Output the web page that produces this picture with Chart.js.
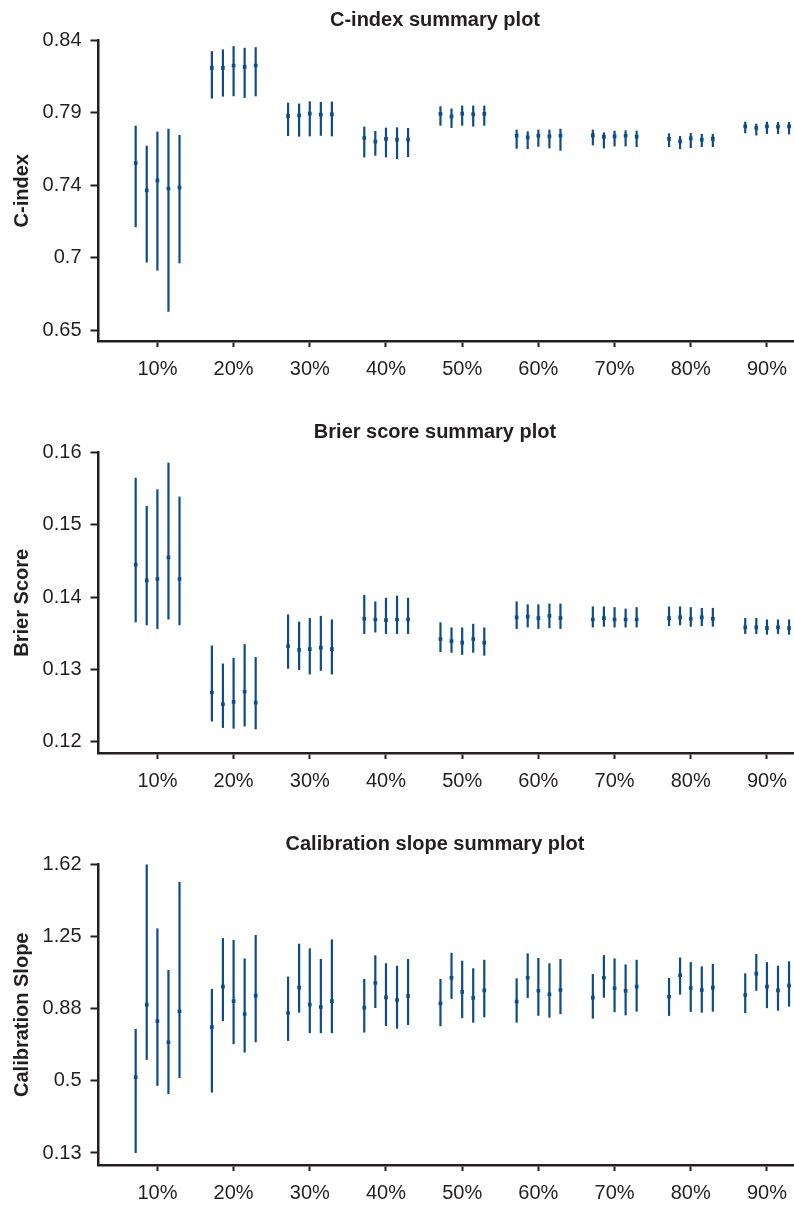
<!DOCTYPE html>
<html>
<head>
<meta charset="utf-8">
<script src="https://cdn.jsdelivr.net/npm/chart.js@4/dist/chart.umd.min.js"></script>
<style>
  html, body { margin: 0; padding: 0; background: #fff; overflow: hidden; }
  #page { position: relative; width: 794px; height: 1206px; overflow: hidden; }
  .panel { position: absolute; left: 0; width: 870px; height: 412px; }
</style>
</head>
<body>
<div id="page">
  <div class="panel" style="top:0px"><canvas id="c1"></canvas></div>
  <div class="panel" style="top:412px"><canvas id="c2"></canvas></div>
  <div class="panel" style="top:824px"><canvas id="c3"></canvas></div>
</div>
<script>
// groups on the x axis (percent)
const groups = [10, 20, 30, 40, 50, 60, 70, 80, 90];
const groupLabels = ['10%', '20%', '30%', '40%', '50%', '60%', '70%', '80%', '90%'];

// C-index: estimate, lower, upper (5 runs per group)
const cindexMean = [
  [0.7596, 0.7416, 0.7482, 0.7429, 0.7435],
  [0.8220, 0.8220, 0.8236, 0.8227, 0.8236],
  [0.7905, 0.7909, 0.7920, 0.7913, 0.7916],
  [0.7760, 0.7736, 0.7754, 0.7749, 0.7749],
  [0.7918, 0.7902, 0.7920, 0.7916, 0.7918],
  [0.7775, 0.7764, 0.7775, 0.7771, 0.7775],
  [0.7777, 0.7767, 0.7771, 0.7775, 0.7769],
  [0.7754, 0.7738, 0.7758, 0.7749, 0.7754],
  [0.7837, 0.7826, 0.7837, 0.7835, 0.7837]
];
const cindexLow = [
  [0.7175, 0.6943, 0.6890, 0.6620, 0.6938],
  [0.8019, 0.8032, 0.8034, 0.8023, 0.8034],
  [0.7773, 0.7769, 0.7771, 0.7775, 0.7771],
  [0.7633, 0.7644, 0.7633, 0.7622, 0.7635],
  [0.7841, 0.7826, 0.7841, 0.7835, 0.7841],
  [0.7690, 0.7688, 0.7703, 0.7692, 0.7677],
  [0.7712, 0.7692, 0.7705, 0.7705, 0.7701],
  [0.7701, 0.7688, 0.7694, 0.7701, 0.7701],
  [0.7791, 0.7777, 0.7787, 0.7787, 0.7784]
];
const cindexHigh = [
  [0.7841, 0.7710, 0.7802, 0.7821, 0.7780],
  [0.8330, 0.8341, 0.8363, 0.8352, 0.8356],
  [0.7992, 0.7986, 0.8001, 0.7997, 0.7999],
  [0.7835, 0.7806, 0.7828, 0.7830, 0.7826],
  [0.7968, 0.7953, 0.7973, 0.7973, 0.7973],
  [0.7815, 0.7804, 0.7815, 0.7815, 0.7821],
  [0.7815, 0.7797, 0.7808, 0.7810, 0.7808],
  [0.7791, 0.7773, 0.7793, 0.7787, 0.7787],
  [0.7867, 0.7854, 0.7867, 0.7865, 0.7865]
];

// Brier score
const brierMean = [
  [0.1445, 0.1423, 0.1425, 0.1455, 0.1425],
  [0.1268, 0.1252, 0.1255, 0.1269, 0.1254],
  [0.1332, 0.1327, 0.1328, 0.1330, 0.1328],
  [0.1370, 0.1369, 0.1368, 0.1369, 0.1369],
  [0.1342, 0.1339, 0.1337, 0.1342, 0.1337],
  [0.1372, 0.1373, 0.1371, 0.1374, 0.1371],
  [0.1369, 0.1371, 0.1369, 0.1369, 0.1369],
  [0.1371, 0.1372, 0.1370, 0.1372, 0.1370],
  [0.1358, 0.1358, 0.1357, 0.1358, 0.1357]
];
const brierLow = [
  [0.1365, 0.1361, 0.1356, 0.1369, 0.1361],
  [0.1228, 0.1219, 0.1218, 0.1221, 0.1217],
  [0.1301, 0.1299, 0.1293, 0.1298, 0.1293],
  [0.1349, 0.1351, 0.1349, 0.1349, 0.1349],
  [0.1324, 0.1323, 0.1320, 0.1323, 0.1319],
  [0.1356, 0.1358, 0.1356, 0.1357, 0.1356],
  [0.1358, 0.1359, 0.1358, 0.1358, 0.1358],
  [0.1360, 0.1361, 0.1359, 0.1360, 0.1359],
  [0.1349, 0.1349, 0.1348, 0.1349, 0.1348]
];
const brierHigh = [
  [0.1565, 0.1526, 0.1549, 0.1586, 0.1539],
  [0.1333, 0.1308, 0.1316, 0.1335, 0.1317],
  [0.1376, 0.1366, 0.1371, 0.1374, 0.1369],
  [0.1403, 0.1394, 0.1399, 0.1402, 0.1399],
  [0.1365, 0.1358, 0.1358, 0.1363, 0.1358],
  [0.1394, 0.1390, 0.1390, 0.1391, 0.1391],
  [0.1387, 0.1387, 0.1386, 0.1384, 0.1386],
  [0.1387, 0.1387, 0.1386, 0.1385, 0.1385],
  [0.1371, 0.1371, 0.1369, 0.1369, 0.1369]
];

// Calibration slope
const slopeMean = [
  [0.522, 0.896, 0.811, 0.702, 0.862],
  [0.780, 0.989, 0.914, 0.848, 0.943],
  [0.853, 0.984, 0.896, 0.884, 0.914],
  [0.881, 1.008, 0.934, 0.920, 0.941],
  [0.903, 1.035, 0.962, 0.931, 0.970],
  [0.912, 1.035, 0.968, 0.950, 0.972],
  [0.932, 1.035, 0.981, 0.967, 0.989],
  [0.937, 1.048, 0.982, 0.972, 0.984],
  [0.946, 1.056, 0.989, 0.970, 0.994]
];
const slopeLow = [
  [0.130, 0.611, 0.477, 0.434, 0.517],
  [0.442, 0.811, 0.692, 0.649, 0.702],
  [0.709, 0.855, 0.749, 0.749, 0.749],
  [0.752, 0.879, 0.786, 0.772, 0.791],
  [0.785, 0.926, 0.826, 0.803, 0.831],
  [0.803, 0.931, 0.839, 0.829, 0.847],
  [0.824, 0.932, 0.857, 0.841, 0.860],
  [0.838, 0.948, 0.859, 0.855, 0.860],
  [0.852, 0.968, 0.878, 0.865, 0.886]
];
const slopeHigh = [
  [0.771, 1.620, 1.290, 1.075, 1.530],
  [0.977, 1.240, 1.230, 1.135, 1.256],
  [1.041, 1.211, 1.187, 1.132, 1.233],
  [1.029, 1.151, 1.110, 1.097, 1.132],
  [1.029, 1.164, 1.123, 1.084, 1.128],
  [1.032, 1.161, 1.137, 1.110, 1.132],
  [1.054, 1.152, 1.135, 1.104, 1.128],
  [1.034, 1.140, 1.116, 1.094, 1.106],
  [1.058, 1.158, 1.116, 1.097, 1.120]
];

// y tick values and their printed labels
const cindexTicks = [0.65, 0.6975, 0.745, 0.7925, 0.84];
const cindexTickLabels = ['0.65', '0.7', '0.74', '0.79', '0.84'];
const brierTicks = [0.12, 0.13, 0.14, 0.15, 0.16];
const brierTickLabels = ['0.12', '0.13', '0.14', '0.15', '0.16'];
const slopeTicks = [0.13, 0.5025, 0.875, 1.2475, 1.62];
const slopeTickLabels = ['0.13', '0.5', '0.88', '1.25', '1.62'];

const BLUE = '#0d4c86';
const INK = '#231f20';
const FONT = 'Liberation Sans, Arial, sans-serif';
const runOffsets = [-2.85, -1.4, 0, 1.45, 2.9];

// draws the vertical interval lines under the points
const errorBars = {
  id: 'errorBars',
  beforeDatasetsDraw(chart) {
    const ctx = chart.ctx;
    const ys = chart.scales.y;
    const xs = chart.scales.x;
    ctx.save();
    ctx.strokeStyle = BLUE;
    ctx.lineWidth = 2.2;
    chart.data.datasets.forEach(ds => {
      ds.data.forEach(p => {
        const x = xs.getPixelForValue(p.x);
        ctx.beginPath();
        ctx.moveTo(x, ys.getPixelForValue(p.lo));
        ctx.lineTo(x, ys.getPixelForValue(p.hi));
        ctx.stroke();
      });
    });
    ctx.restore();
  }
};

function makePanel(id, title, yTitle, mean, low, high, ticks, tickLabels, yMin, yMax) {
  const pts = [];
  groups.forEach((g, i) => {
    runOffsets.forEach((off, j) => {
      pts.push({ x: g + off, y: mean[i][j], lo: low[i][j], hi: high[i][j] });
    });
  });

  new Chart(document.getElementById(id), {
    type: 'scatter',
    data: {
      datasets: [{
        data: pts,
        pointStyle: 'rect',
        pointRadius: 2.6,
        backgroundColor: BLUE,
        borderColor: BLUE,
        borderWidth: 0
      }]
    },
    options: {
      responsive: true,
      maintainAspectRatio: false,
      animation: false,
      layout: { padding: 0 },
      plugins: {
        legend: { display: false },
        tooltip: { enabled: false },
        title: {
          display: true,
          text: title,
          color: INK,
          font: { family: FONT, size: 20, weight: 'bold' },
          padding: { top: 8.5, bottom: 8 }
        }
      },
      scales: {
        x: {
          type: 'linear',
          min: 2.27,
          max: 103,
          afterFit: s => { s.height = 71; },
          afterBuildTicks: s => { s.ticks = groups.map(v => ({ value: v })); },
          ticks: {
            color: INK,
            padding: 10,
            maxRotation: 0,
            font: { family: FONT, size: 20 },
            callback: (v) => groupLabels[groups.indexOf(v)]
          },
          grid: { drawOnChartArea: false, drawTicks: true, tickLength: 6, tickColor: INK, tickWidth: 2 },
          border: { display: true, color: INK, width: 2.5 }
        },
        y: {
          min: yMin,
          max: yMax,
          afterFit: s => { s.width = 98.5; },
          afterBuildTicks: s => { s.ticks = ticks.map(v => ({ value: v })); },
          ticks: {
            color: INK,
            padding: 9,
            font: { family: FONT, size: 20 },
            callback: (v) => tickLabels[ticks.indexOf(v)]
          },
          title: {
            display: true,
            text: yTitle,
            color: INK,
            font: { family: FONT, size: 20, weight: 'bold' },
            padding: { top: 10, bottom: 0 }
          },
          grid: { drawOnChartArea: false, drawTicks: true, tickLength: 8, tickColor: INK, tickWidth: 2 },
          border: { display: true, color: INK, width: 2.5 }
        }
      }
    },
    plugins: [errorBars]
  });
}

makePanel('c1', 'C-index summary plot', 'C-index',
  cindexMean, cindexLow, cindexHigh, cindexTicks, cindexTickLabels, 0.6428, 0.84);
makePanel('c2', 'Brier score summary plot', 'Brier Score',
  brierMean, brierLow, brierHigh, brierTicks, brierTickLabels, 0.11843, 0.16);
makePanel('c3', 'Calibration slope summary plot', 'Calibration Slope',
  slopeMean, slopeLow, slopeHigh, slopeTicks, slopeTickLabels, 0.068, 1.62);
</script>
</body>
</html>
